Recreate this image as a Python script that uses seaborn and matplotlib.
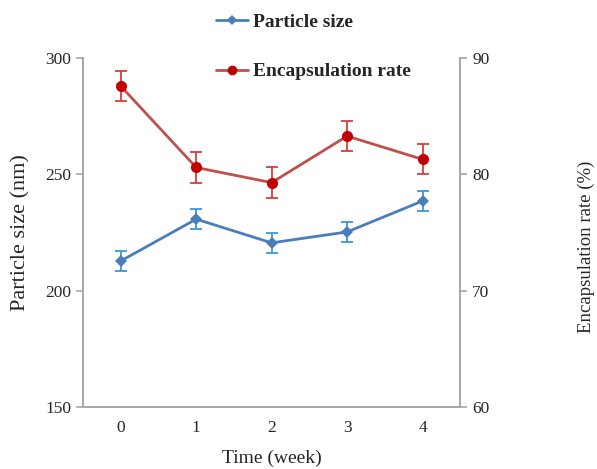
import numpy as np
import pandas as pd
import seaborn as sns
import matplotlib.pyplot as plt
from matplotlib.lines import Line2D

# data
weeks = [0, 1, 2, 3, 4]
particle_size = [212.8, 230.8, 220.6, 225.3, 238.6]
particle_err = [4.3, 4.3, 4.3, 4.3, 4.3]
encap_rate = [87.6, 80.6, 79.3, 83.3, 81.3]
encap_err = [1.3, 1.3, 1.3, 1.3, 1.3]

df = pd.DataFrame({"week": weeks, "size": particle_size, "size_err": particle_err,
                   "encap": encap_rate, "encap_err": encap_err})

sns.set_style("white")
plt.rcParams["font.family"] = ["Liberation Serif", "DejaVu Serif"]

blue_line = "#4a7ebb"
blue_err = "#3f97d6"
red_line = "#c0504d"
red_mark = "#c00000"
red_err = "#dc3c3c"
spine_c = "#a6a6a6"

fig = plt.figure(figsize=(5.97, 4.69), dpi=100)
ax = fig.add_axes([0.139, 0.132, 0.632, 0.744])
ax2 = ax.twinx()

# particle size (left axis)
ax.errorbar(df["week"], df["size"], yerr=df["size_err"], fmt="none",
            ecolor=blue_err, elinewidth=1.3, capsize=4, capthick=1.3, zorder=2)
sns.lineplot(data=df, x="week", y="size", ax=ax, color=blue_line, lw=2,
             marker="D", markersize=6.5, markeredgewidth=0, legend=False, zorder=3)

# encapsulation rate (right axis)
ax2.errorbar(df["week"], df["encap"], yerr=df["encap_err"], fmt="none",
             ecolor=red_err, elinewidth=1.3, capsize=4, capthick=1.3, zorder=2)
sns.lineplot(data=df, x="week", y="encap", ax=ax2, color=red_line, lw=2,
             marker="o", markersize=8, markerfacecolor=red_mark, markeredgewidth=0,
             legend=False, zorder=3)

ax.set_xlim(-0.5, 4.5)
ax.set_ylim(150, 300)
ax.set_yticks([150, 200, 250, 300])
ax2.set_ylim(60, 90)
ax2.set_yticks([60, 70, 80, 90])

ax.set_xticks(weeks)
ax.set_xticks([0.5, 1.5, 2.5, 3.5], minor=True)
ax.tick_params(axis="x", which="major", length=0, pad=9, labelsize=12.5)
ax.tick_params(axis="x", which="minor", length=5, color=spine_c, width=1.2, direction="out")
ax.tick_params(axis="y", length=5, color=spine_c, width=1.2, direction="out", labelsize=12.5, left=True)
ax2.tick_params(axis="y", length=5, color=spine_c, width=1.2, direction="out", labelsize=12.5, right=True)

for a in (ax, ax2):
    a.spines["top"].set_visible(False)
    for s in ("left", "right", "bottom"):
        a.spines[s].set_color(spine_c)
        a.spines[s].set_linewidth(1.2)

ax.set_xlabel("Time (week)", fontsize=14, labelpad=10)
ax.set_ylabel("Particle size (nm)", fontsize=16)
ax.yaxis.set_label_coords(-0.14, 0.5)
ax2.set_ylabel("Encapsulation rate (%)", fontsize=13.5)
ax2.yaxis.set_label_coords(1.312, 0.46)

handles = [
    Line2D([], [], color=blue_line, lw=2, marker="D", markersize=5, markeredgewidth=0),
    Line2D([], [], color=red_line, lw=2, marker="o", markersize=7,
           markerfacecolor=red_mark, markeredgewidth=0),
]
fig.legend(handles, ["Particle size", "Encapsulation rate"], loc="upper left",
           bbox_to_anchor=(0.343, 0.997), frameon=False, handlelength=1.6,
           handletextpad=0.3, labelspacing=1.65, borderaxespad=0.2,
           prop={"family": "Liberation Serif", "weight": "bold", "size": 14})

fig.savefig("out.png", dpi=100)
